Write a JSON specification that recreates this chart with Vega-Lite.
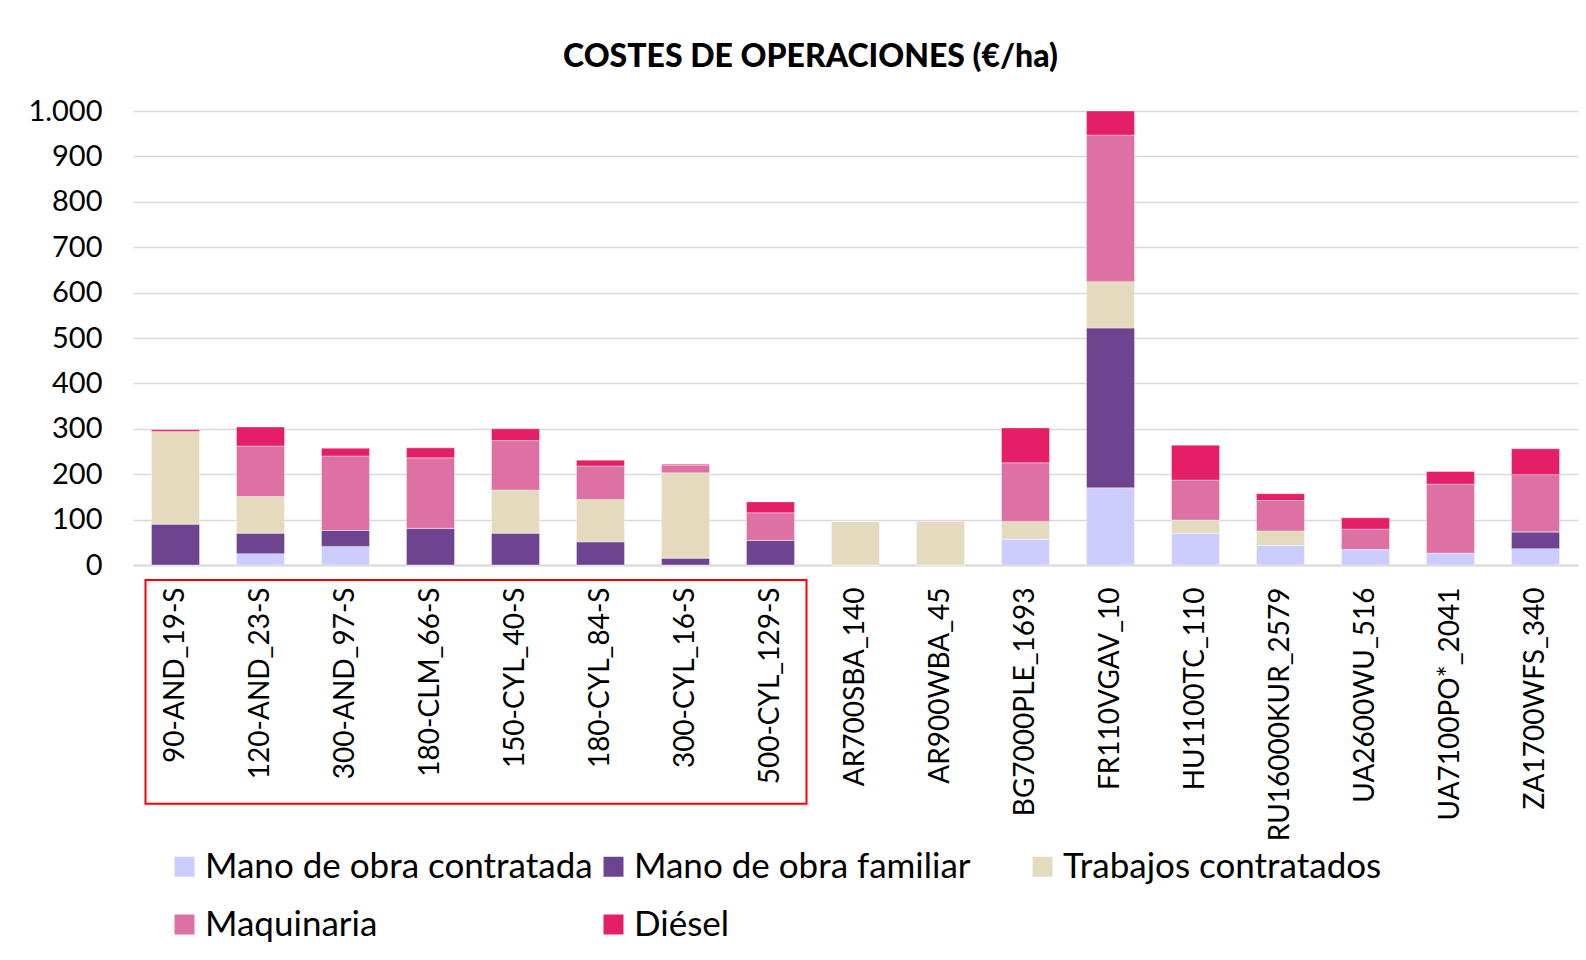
{
  "$schema": "https://vega.github.io/schema/vega-lite/v6.json",
  "autosize": "none",
  "padding": {"left": 133, "top": 111, "right": 8, "bottom": 395},
  "width": 1445,
  "height": 454,
  "background": "#ffffff",
  "title": {
    "text": "COSTES DE OPERACIONES (€/ha)",
    "font": "Lato",
    "fontSize": 32,
    "fontWeight": 900,
    "color": "#000000",
    "anchor": "middle",
    "frame": "group",
    "dx": -45,
    "offset": 23
  },
  "datasets": {
    "costes": [
      {"finca": "90-AND_19-S", "Mano de obra contratada": 0, "Mano de obra familiar": 90, "Trabajos contratados": 204, "Maquinaria": 0, "Diésel": 4},
      {"finca": "120-AND_23-S", "Mano de obra contratada": 25, "Mano de obra familiar": 45, "Trabajos contratados": 81, "Maquinaria": 111, "Diésel": 42},
      {"finca": "300-AND_97-S", "Mano de obra contratada": 41, "Mano de obra familiar": 35, "Trabajos contratados": 0, "Maquinaria": 164, "Diésel": 17},
      {"finca": "180-CLM_66-S", "Mano de obra contratada": 0, "Mano de obra familiar": 81, "Trabajos contratados": 0, "Maquinaria": 155, "Diésel": 22},
      {"finca": "150-CYL_40-S", "Mano de obra contratada": 0, "Mano de obra familiar": 70, "Trabajos contratados": 95, "Maquinaria": 109, "Diésel": 26},
      {"finca": "180-CYL_84-S", "Mano de obra contratada": 0, "Mano de obra familiar": 51, "Trabajos contratados": 93, "Maquinaria": 74, "Diésel": 13},
      {"finca": "300-CYL_16-S", "Mano de obra contratada": 0, "Mano de obra familiar": 15, "Trabajos contratados": 188, "Maquinaria": 17, "Diésel": 2},
      {"finca": "500-CYL_129-S", "Mano de obra contratada": 0, "Mano de obra familiar": 54, "Trabajos contratados": 0, "Maquinaria": 61, "Diésel": 24},
      {"finca": "AR700SBA_140", "Mano de obra contratada": 0, "Mano de obra familiar": 0, "Trabajos contratados": 96, "Maquinaria": 0, "Diésel": 0},
      {"finca": "AR900WBA_45", "Mano de obra contratada": 0, "Mano de obra familiar": 0, "Trabajos contratados": 93, "Maquinaria": 2, "Diésel": 0},
      {"finca": "BG7000PLE_1693", "Mano de obra contratada": 57, "Mano de obra familiar": 0, "Trabajos contratados": 39, "Maquinaria": 129, "Diésel": 77},
      {"finca": "FR110VGAV_10", "Mano de obra contratada": 170, "Mano de obra familiar": 352, "Trabajos contratados": 102, "Maquinaria": 323, "Diésel": 53},
      {"finca": "HU1100TC_110", "Mano de obra contratada": 70, "Mano de obra familiar": 0, "Trabajos contratados": 29, "Maquinaria": 88, "Diésel": 77},
      {"finca": "RU16000KUR_2579", "Mano de obra contratada": 43, "Mano de obra familiar": 0, "Trabajos contratados": 32, "Maquinaria": 67, "Diésel": 15},
      {"finca": "UA2600WU_516", "Mano de obra contratada": 34, "Mano de obra familiar": 0, "Trabajos contratados": 0, "Maquinaria": 45, "Diésel": 25},
      {"finca": "UA7100PO*_2041", "Mano de obra contratada": 26, "Mano de obra familiar": 0, "Trabajos contratados": 0, "Maquinaria": 152, "Diésel": 28},
      {"finca": "ZA1700WFS_340", "Mano de obra contratada": 36, "Mano de obra familiar": 37, "Trabajos contratados": 0, "Maquinaria": 126, "Diésel": 57}
    ],
    "conceptos": [
      {"concepto": "Mano de obra contratada", "rango": 1},
      {"concepto": "Mano de obra familiar", "rango": 2},
      {"concepto": "Trabajos contratados", "rango": 3},
      {"concepto": "Maquinaria", "rango": 4},
      {"concepto": "Diésel", "rango": 5}
    ],
    "grupo": [
      {"desde": "90-AND_19-S", "hasta": "500-CYL_129-S"}
    ]
  },
  "layer": [
    {
      "data": {"name": "costes"},
      "transform": [
        {"fold": ["Mano de obra contratada", "Mano de obra familiar", "Trabajos contratados", "Maquinaria", "Diésel"], "as": ["concepto", "valor"]},
        {"lookup": "concepto", "from": {"data": {"name": "conceptos"}, "key": "concepto", "fields": ["rango"]}}
      ],
      "mark": {"type": "bar", "stroke": "#ffffff", "strokeWidth": 0.6, "strokeOpacity": 0.6},
      "encoding": {
        "x": {
          "field": "finca",
          "type": "nominal",
          "scale": {
            "domain": ["90-AND_19-S", "120-AND_23-S", "300-AND_97-S", "180-CLM_66-S", "150-CYL_40-S", "180-CYL_84-S", "300-CYL_16-S", "500-CYL_129-S", "AR700SBA_140", "AR900WBA_45", "BG7000PLE_1693", "FR110VGAV_10", "HU1100TC_110", "RU16000KUR_2579", "UA2600WU_516", "UA7100PO*_2041", "ZA1700WFS_340"],
            "paddingInner": 0.435,
            "paddingOuter": 0.2175
          },
          "axis": {
            "title": null,
            "labelAngle": -90,
            "labelFont": "Lato",
            "labelFontSize": 28,
            "labelColor": "#000000",
            "labelPadding": 22,
            "ticks": false,
            "domainColor": "#D9D9D9",
            "domainWidth": 2,
            "labelLimit": 400
          }
        },
        "y": {
          "field": "valor",
          "type": "quantitative",
          "stack": "zero",
          "scale": {"domain": [0, 1000], "nice": false},
          "axis": {
            "title": null,
            "values": [0, 100, 200, 300, 400, 500, 600, 700, 800, 900, 1000],
            "format": ",d",
            "labelFont": "Lato",
            "labelFontSize": 29,
            "labelColor": "#000000",
            "labelPadding": 31,
            "ticks": false,
            "domain": false,
            "grid": true,
            "gridColor": "#D9D9D9",
            "gridWidth": 1.5
          }
        },
        "order": {"field": "rango", "type": "quantitative", "sort": "ascending"},
        "color": {
          "field": "concepto",
          "type": "nominal",
          "sort": ["Mano de obra contratada", "Mano de obra familiar", "Trabajos contratados", "Maquinaria", "Diésel"],
          "scale": {
            "domain": ["Mano de obra contratada", "Mano de obra familiar", "Trabajos contratados", "Maquinaria", "Diésel"],
            "range": ["#CCCCFF", "#6E4490", "#E4DABE", "#DD71A3", "#E41F67"]
          },
          "legend": {
            "title": null,
            "orient": "none",
            "legendX": 34,
            "legendY": 738,
            "direction": "horizontal",
            "columns": 3,
            "gridAlign": "all",
            "symbolType": "square",
            "symbolSize": 400,
            "symbolStrokeWidth": 0,
            "labelFont": "Lato",
            "labelFontSize": 35,
            "labelColor": "#000000",
            "labelOffset": 3,
            "labelLimit": 600,
            "columnPadding": 3,
            "rowPadding": 22
          }
        }
      }
    },
    {
      "data": {"name": "grupo"},
      "mark": {"type": "rect", "fill": null, "fillOpacity": 0, "stroke": "#FF0000", "strokeWidth": 2, "xOffset": -6, "x2Offset": 12},
      "encoding": {
        "x": {"field": "desde", "type": "nominal", "bandPosition": 0},
        "x2": {"field": "hasta", "bandPosition": 1},
        "y": {"datum": -33},
        "y2": {"datum": -526}
      }
    }
  ],
  "config": {
    "locale": {
      "number": {"decimal": ",", "thousands": ".", "grouping": [3], "currency": ["", " €"]}
    },
    "view": {"stroke": null}
  }
}
